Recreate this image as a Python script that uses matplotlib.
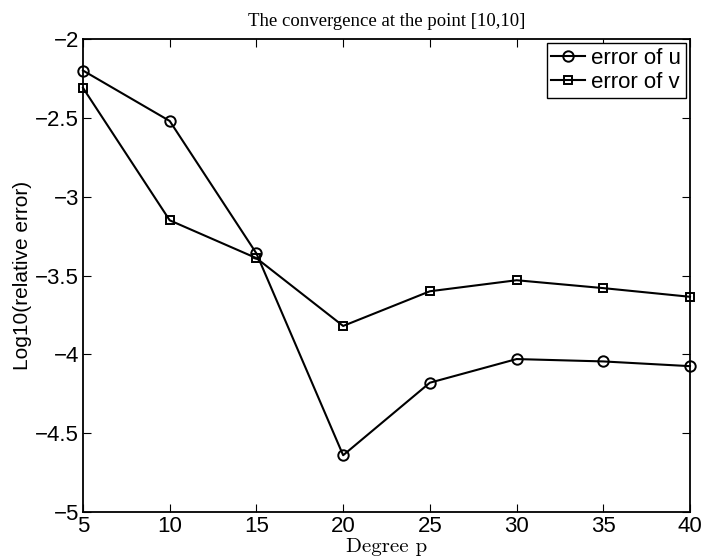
import matplotlib
matplotlib.use("Agg")
import matplotlib.pyplot as plt
from matplotlib.ticker import FixedLocator, FuncFormatter

degree = [5, 10, 15, 20, 25, 30, 35, 40]
err_u = [-2.20, -2.52, -3.36, -4.64, -4.18, -4.03, -4.045, -4.075]
err_v = [-2.31, -3.15, -3.39, -3.82, -3.60, -3.53, -3.58, -3.635]
xticks = [5, 10, 15, 20, 25, 30, 35, 40]
yticks = [-5, -4.5, -4, -3.5, -3, -2.5, -2]

W, H = 703, 560
fig = plt.figure(figsize=(W/100, H/100), dpi=100)
L, R, T, B = 83, 690, 39, 512
ax = fig.add_axes([L/W, 1 - B/H, (R-L)/W, (B-T)/H])

ax.plot(degree, err_u, color='black', lw=1.5, marker='o', ms=7.5,
        mfc='none', mec='black', mew=1.4, label='error of u', clip_on=False)
ax.plot(degree, err_v, color='black', lw=1.5, marker='s', ms=5.5,
        mfc='none', mec='black', mew=1.4, label='error of v', clip_on=False)

ax.set_xlim(5, 40)
ax.set_ylim(-5, -2)
ax.xaxis.set_major_locator(FixedLocator(xticks))
ax.yaxis.set_major_locator(FixedLocator(yticks))
ax.yaxis.set_major_formatter(FuncFormatter(lambda v, p: ('%g' % v).replace('-', '\u2212')))
ax.tick_params(direction='in', top=True, right=True, length=6, width=0.8,
               labelsize=16, pad=3)
for lab in ax.get_xticklabels() + ax.get_yticklabels():
    lab.set_fontfamily('Liberation Sans')
for s in ax.spines.values():
    s.set_linewidth(1.3)

fig.text((L+R)/2/W, 1 - 21/H, 'The convergence at the point [10,10]',
         fontfamily='Liberation Serif', fontsize=13.5, ha='center', va='center')
ax.set_xlabel('Degree p', fontfamily='cmr10', fontsize=15)
ax.xaxis.set_label_coords(0.5, -(547-B)/(B-T), transform=ax.transAxes)
ax.xaxis.label.set_va('center')
ax.set_ylabel('Log10(relative error)', fontfamily='Liberation Sans', fontsize=15)
ax.yaxis.set_label_coords(-(L-23)/(R-L), 0.5, transform=ax.transAxes)
ax.yaxis.label.set_va('center')

leg = ax.legend(loc='upper right', fancybox=False, framealpha=1, edgecolor='black',
                prop={'family': 'Liberation Sans', 'size': 16}, handlelength=1.5,
                handletextpad=0.3, borderpad=0.2, labelspacing=0.15,
                borderaxespad=0.2)
leg.get_frame().set_linewidth(1.0)

fig.savefig('out.png', dpi=100)
